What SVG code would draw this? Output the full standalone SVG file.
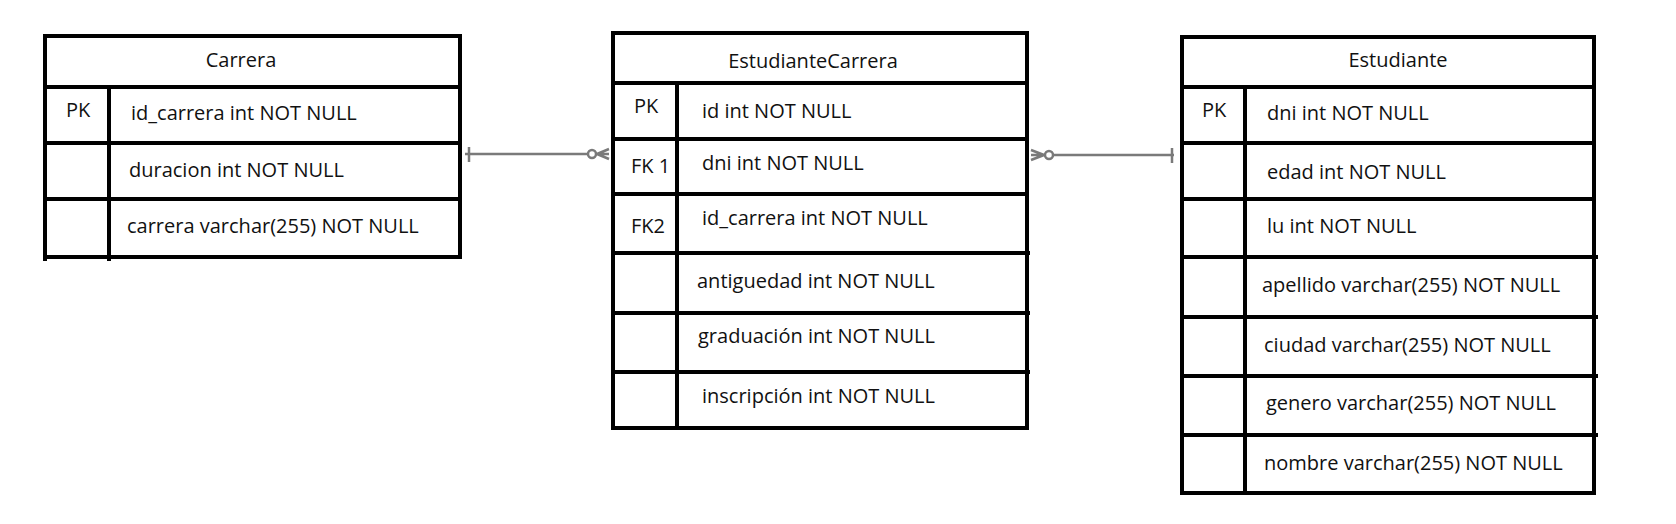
<svg xmlns="http://www.w3.org/2000/svg" width="1676" height="524" viewBox="0 0 1676 524">
<style>
.b{fill:none;stroke:#000;stroke-width:4}
.t{font-family:"Open Sans","Noto Sans",sans-serif;font-size:20px;fill:#111}
.m{text-anchor:middle}
.c{stroke:#7a7a7a;stroke-width:2.5;fill:none}
</style>
<rect width="1676" height="524" fill="#fff"/>
<g id="Carrera">
<rect class="b" x="45" y="36" width="415" height="221"/>
<line class="b" x1="45" y1="87" x2="460" y2="87"/>
<line class="b" x1="45" y1="143" x2="460" y2="143"/>
<line class="b" x1="45" y1="199" x2="460" y2="199"/>
<line class="b" x1="109" y1="87" x2="109" y2="261"/>
<line class="b" x1="45" y1="257" x2="45" y2="261"/>
<text class="t m" x="241" y="67">Carrera</text>
<text class="t" x="66" y="117">PK</text>
<text class="t" x="131" y="120">id_carrera int NOT NULL</text>
<text class="t" x="129" y="177">duracion int NOT NULL</text>
<text class="t" x="127" y="233">carrera varchar(255) NOT NULL</text>
</g>
<g id="EstudianteCarrera">
<rect class="b" x="613" y="33" width="414" height="395"/>
<line class="b" x1="613" y1="83" x2="1027" y2="83"/>
<line class="b" x1="613" y1="139" x2="1027" y2="139"/>
<line class="b" x1="613" y1="194" x2="1027" y2="194"/>
<line class="b" x1="613" y1="253" x2="1030" y2="253"/>
<line class="b" x1="613" y1="313" x2="1030" y2="313"/>
<line class="b" x1="613" y1="372" x2="1030" y2="372"/>
<line class="b" x1="677" y1="83" x2="677" y2="428"/>
<text class="t m" x="813" y="68">EstudianteCarrera</text>
<text class="t" x="634" y="113">PK</text>
<text class="t" x="631" y="173">FK 1</text>
<text class="t" x="631" y="233">FK2</text>
<text class="t" x="702" y="118">id int NOT NULL</text>
<text class="t" x="702" y="170">dni int NOT NULL</text>
<text class="t" x="702" y="225">id_carrera int NOT NULL</text>
<text class="t" x="697" y="288">antiguedad int NOT NULL</text>
<text class="t" x="698" y="343">graduación int NOT NULL</text>
<text class="t" x="702" y="403">inscripción int NOT NULL</text>
</g>
<g id="Estudiante">
<rect class="b" x="1182" y="37" width="412" height="456"/>
<line class="b" x1="1182" y1="87" x2="1594" y2="87"/>
<line class="b" x1="1182" y1="143" x2="1594" y2="143"/>
<line class="b" x1="1182" y1="199" x2="1594" y2="199"/>
<line class="b" x1="1182" y1="257" x2="1598" y2="257"/>
<line class="b" x1="1182" y1="317" x2="1598" y2="317"/>
<line class="b" x1="1182" y1="376" x2="1598" y2="376"/>
<line class="b" x1="1182" y1="435" x2="1598" y2="435"/>
<line class="b" x1="1245" y1="87" x2="1245" y2="493"/>
<text class="t m" x="1398" y="67">Estudiante</text>
<text class="t" x="1202" y="117">PK</text>
<text class="t" x="1267" y="120">dni int NOT NULL</text>
<text class="t" x="1267" y="179">edad int NOT NULL</text>
<text class="t" x="1267" y="233">lu int NOT NULL</text>
<text class="t" x="1262" y="292">apellido varchar(255) NOT NULL</text>
<text class="t" x="1264" y="352">ciudad varchar(255) NOT NULL</text>
<text class="t" x="1266" y="410">genero varchar(255) NOT NULL</text>
<text class="t" x="1264" y="470">nombre varchar(255) NOT NULL</text>
</g>
<g id="connectors">
<line class="c" x1="465" y1="154" x2="588" y2="154"/>
<line class="c" x1="469" y1="147" x2="469" y2="162"/>
<circle class="c" cx="592" cy="154" r="4"/>
<path class="c" d="M596 154 L609 154 M597 154 L609 149 M597 154 L609 159"/>
<line class="c" x1="1053" y1="155" x2="1174" y2="155"/>
<line class="c" x1="1172" y1="148" x2="1172" y2="163"/>
<circle class="c" cx="1049" cy="155" r="4"/>
<path class="c" d="M1031 155 L1045 155 M1031 150 L1044 155 M1031 160 L1044 155"/>
</g>
</svg>
